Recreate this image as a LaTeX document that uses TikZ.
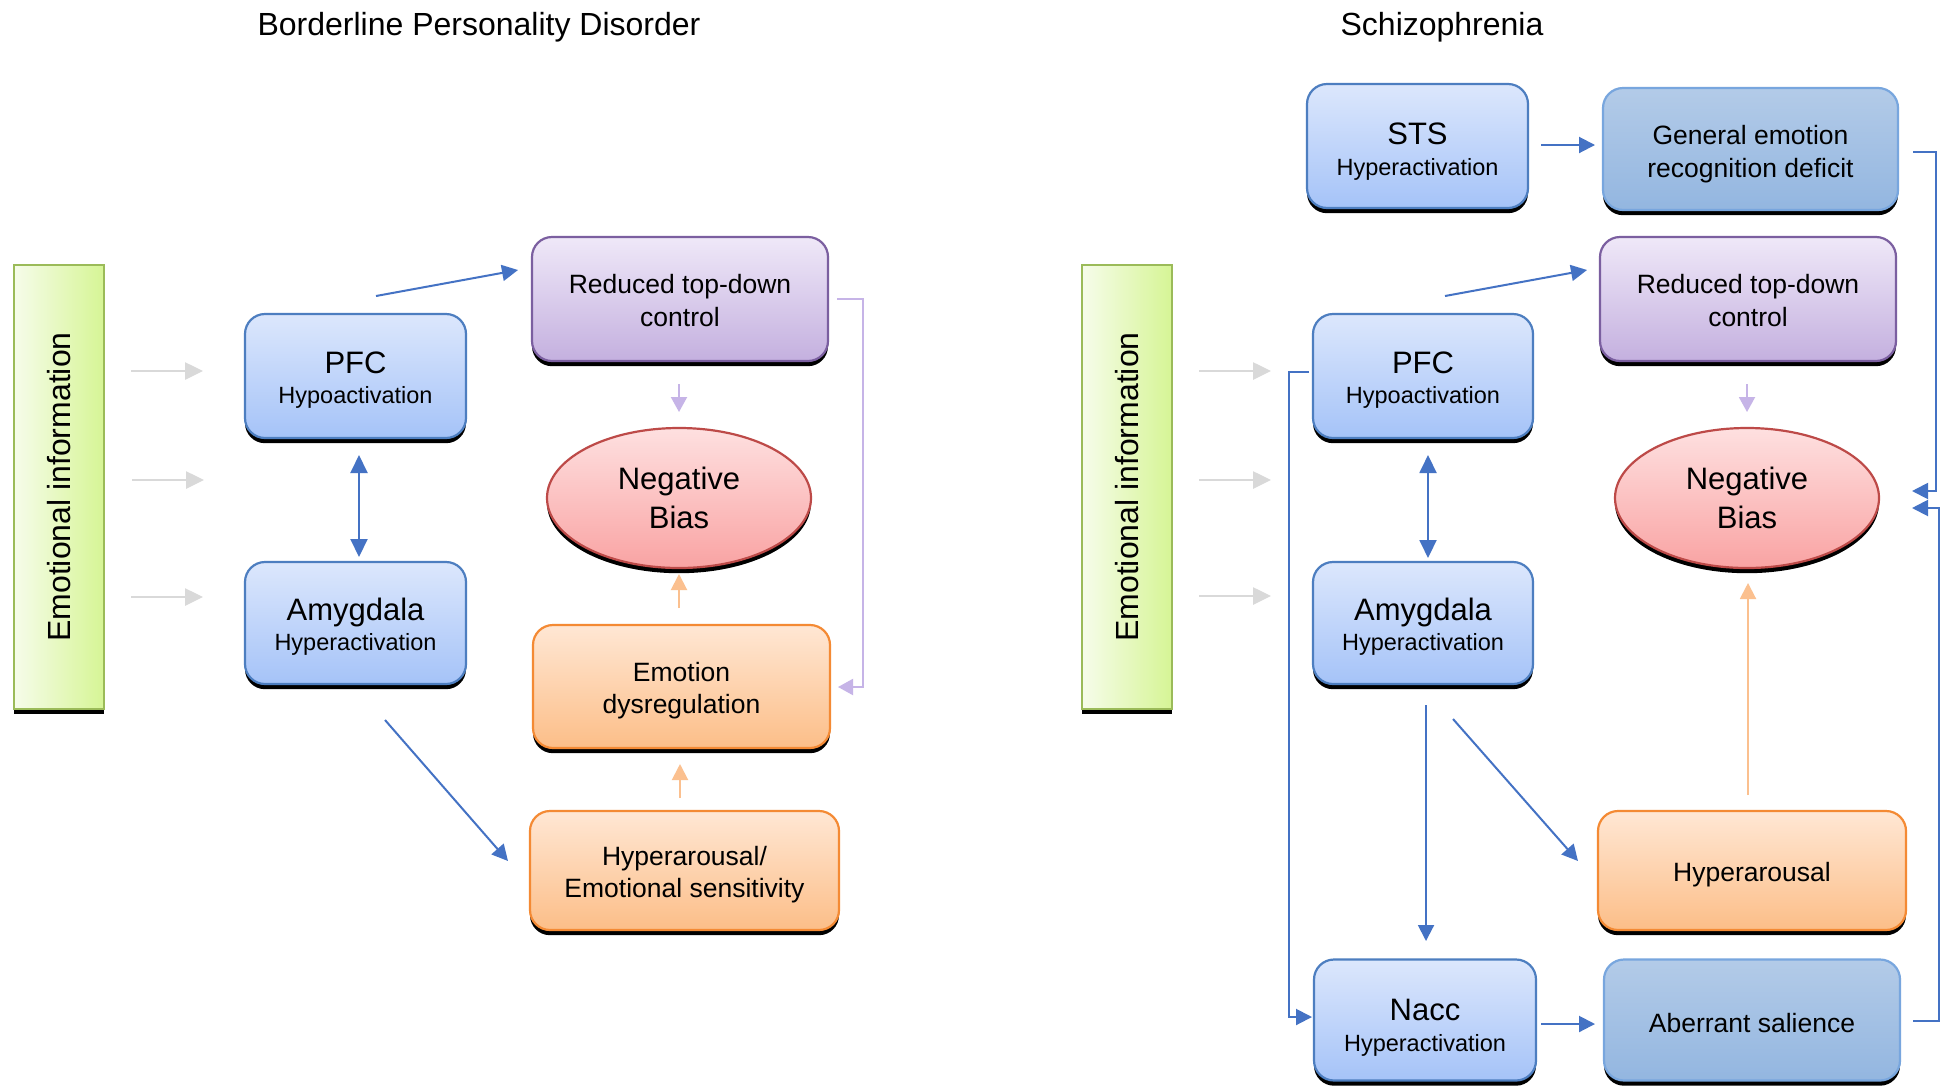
\documentclass[tikz,border=0pt]{standalone}
\usepackage{fontspec}
\setmainfont{Liberation Sans}
\usetikzlibrary{arrows.meta,shapes.geometric,shadows}
\definecolor{btop}{HTML}{DCE7FC}
\definecolor{bbot}{HTML}{A5C3F8}
\definecolor{bbord}{HTML}{4D7EC0}
\definecolor{dtop}{HTML}{B3CBE8}
\definecolor{dbot}{HTML}{93B6E0}
\definecolor{dbord}{HTML}{78A6DE}
\definecolor{ptop}{HTML}{EFE8F8}
\definecolor{pbot}{HTML}{C4B0DF}
\definecolor{pbord}{HTML}{7B5FA0}
\definecolor{rtop}{HTML}{FEE0E0}
\definecolor{rbot}{HTML}{F9A3A3}
\definecolor{rbord}{HTML}{BD4A48}
\definecolor{otop}{HTML}{FFE7D4}
\definecolor{obot}{HTML}{FCBE88}
\definecolor{obord}{HTML}{F48A34}
\definecolor{gleft}{HTML}{F6FCEA}
\definecolor{gright}{HTML}{D6F595}
\definecolor{gbord}{HTML}{9BBB59}
\definecolor{ablue}{HTML}{4472C4}
\definecolor{agray}{HTML}{D9D9D9}
\definecolor{apurple}{HTML}{C6B4E7}
\definecolor{aorange}{HTML}{FBC08F}
\newcommand\bodyfont{\fontsize{13.25}{16.25}\selectfont}
\newcommand\namefont{\fontsize{15.5}{15.5}\selectfont}
\newcommand\subfont{\fontsize{11.75}{15.25}\selectfont}
\newcommand\tp[1]{\rule{0pt}{#1}}
\begin{document}
\begin{tikzpicture}[x=0.5pt,y=-0.5pt,
  blackshadow/.style={drop shadow={shadow xshift=0pt, shadow yshift=-2.6pt, opacity=1, fill=black}},
  box/.style={rectangle, rounded corners=10pt, line width=1.1pt, inner sep=0pt, align=center, blackshadow},
  bluebox/.style={box, draw=bbord, top color=btop, bottom color=bbot, font=\subfont},
  dbluebox/.style={box, draw=dbord, top color=dtop, bottom color=dbot, font=\bodyfont},
  purplebox/.style={box, draw=pbord, top color=ptop, bottom color=pbot, font=\bodyfont},
  orangebox/.style={box, draw=obord, top color=otop, bottom color=obot, font=\bodyfont},
  negbias/.style={ellipse, draw=rbord, line width=1.1pt, top color=rtop, bottom color=rbot, inner sep=0pt, align=center, blackshadow, minimum width=132pt, minimum height=70pt, font=\fontsize{15.5}{19.5}\selectfont},
  greenbar/.style={rectangle, draw=gbord, line width=1.2pt, left color=gleft, right color=gright, minimum width=45pt, minimum height=222pt, inner sep=0pt, blackshadow},
  titletext/.style={anchor=base, font=\fontsize{16}{19}\selectfont},
  blu/.style={draw=ablue, line width=1pt, -{Triangle[length=8pt,width=8pt]}},
  bludbl/.style={draw=ablue, line width=1pt, {Triangle[length=9pt,width=8.5pt]}-{Triangle[length=9pt,width=8.5pt]}},
  gry/.style={draw=agray, line width=1.3pt, -{Triangle[length=9pt,width=8.5pt]}},
  pur/.style={draw=apurple, line width=1pt, -{Triangle[length=7.5pt,width=8pt]}},
  org/.style={draw=aorange, line width=1pt, -{Triangle[length=8pt,width=8pt]}}
]
\path[fill=white, use as bounding box] (0,0) rectangle (1948,1088);

% ---------------- Titles ----------------
\node[titletext] (titleL) at (479,35) {Borderline Personality Disorder};
\node[titletext] (titleR) at (1442,35) {Schizophrenia};

% ---------------- Left panel ----------------
\node[greenbar, label={[rotate=90, font=\fontsize{16}{19}\selectfont]center:Emotional information}] (greenL) at (59,487) {};
\node[bluebox, minimum width=110.5pt, minimum height=62pt] (pfcL) at (355.5,376) {{\namefont\tp{15.1pt}PFC}\\Hypoactivation};
\node[bluebox, minimum width=110.5pt, minimum height=61pt] (amyL) at (355.5,623) {{\namefont\tp{15.1pt}Amygdala}\\Hyperactivation};
\node[purplebox, minimum width=148pt, minimum height=62pt] (redL) at (680,299) {\tp{10.9pt}Reduced top-down\\control};
\node[negbias] (negL) at (679,498) {Negative\\Bias};
\node[orangebox, minimum width=148.5pt, minimum height=61.5pt] (emoL) at (681.5,686.5) {\tp{13.5pt}Emotion\\dysregulation};
\node[orangebox, minimum width=154.5pt, minimum height=59.5pt] (hypL) at (684.5,870.5) {\tp{13.5pt}Hyperarousal/\\Emotional sensitivity};

\coordinate (gL1a) at (131,371); \coordinate (gL1b) at (203,371);
\coordinate (gL2a) at (132,480); \coordinate (gL2b) at (204,480);
\coordinate (gL3a) at (131,597); \coordinate (gL3b) at (203,597);
\draw[gry] (gL1a) -- (gL1b);
\draw[gry] (gL2a) -- (gL2b);
\draw[gry] (gL3a) -- (gL3b);

\coordinate (dL1) at (359,455); \coordinate (dL2) at (359,557);
\draw[bludbl] (dL1) -- (dL2);

\coordinate (pfL1) at (376,296); \coordinate (pfL2) at (518,270);
\draw[blu] (pfL1) -- (pfL2);

\coordinate (amL1) at (385,720); \coordinate (amL2) at (508,861);
\draw[blu] (amL1) -- (amL2);

\coordinate (rnL1) at (679,384); \coordinate (rnL2) at (679,412);
\draw[pur] (rnL1) -- (rnL2);

\coordinate (enL1) at (679,608); \coordinate (enL2) at (679,574);
\draw[org] (enL1) -- (enL2);

\coordinate (heL1) at (680,798); \coordinate (heL2) at (680,764);
\draw[org] (heL1) -- (heL2);

\coordinate (fbL1) at (837,299); \coordinate (fbL2) at (863,299);
\coordinate (fbL3) at (863,687); \coordinate (fbL4) at (838,687);
\draw[pur] (fbL1) -- (fbL2) -- (fbL3) -- (fbL4);

% ---------------- Right panel ----------------
\node[greenbar, label={[rotate=90, font=\fontsize{16}{19}\selectfont]center:Emotional information}] (greenR) at (1127,487) {};
\node[bluebox, minimum width=110.5pt, minimum height=62pt] (sts) at (1417.5,146) {{\namefont\tp{16.3pt}STS}\\Hyperactivation};
\node[dbluebox, minimum width=147.5pt, minimum height=61pt] (gen) at (1750.5,149) {\tp{14.7pt}General emotion\\recognition deficit};
\node[purplebox, minimum width=148pt, minimum height=62pt] (redR) at (1748,299) {\tp{10.9pt}Reduced top-down\\control};
\node[bluebox, minimum width=110pt, minimum height=62pt] (pfcR) at (1423,376) {{\namefont\tp{15.1pt}PFC}\\Hypoactivation};
\node[bluebox, minimum width=110pt, minimum height=61pt] (amyR) at (1423,623) {{\namefont\tp{15.1pt}Amygdala}\\Hyperactivation};
\node[negbias] (negR) at (1747,498) {Negative\\Bias};
\node[orangebox, minimum width=154pt, minimum height=59.5pt] (hypR) at (1752,870.5) {\tp{13.5pt}Hyperarousal};
\node[bluebox, minimum width=111pt, minimum height=60.5pt] (nacc) at (1425,1020) {{\namefont\tp{18.5pt}Nacc}\\Hyperactivation};
\node[dbluebox, minimum width=148pt, minimum height=60.5pt] (aber) at (1752,1020) {\tp{12.2pt}Aberrant salience};

\coordinate (gR1a) at (1199,371); \coordinate (gR1b) at (1271,371);
\coordinate (gR2a) at (1199,480); \coordinate (gR2b) at (1271,480);
\coordinate (gR3a) at (1199,596); \coordinate (gR3b) at (1271,596);
\draw[gry] (gR1a) -- (gR1b);
\draw[gry] (gR2a) -- (gR2b);
\draw[gry] (gR3a) -- (gR3b);

\coordinate (sg1) at (1541,145); \coordinate (sg2) at (1595,145);
\draw[blu] (sg1) -- (sg2);

\coordinate (pfR1) at (1445,296); \coordinate (pfR2) at (1587,270);
\draw[blu] (pfR1) -- (pfR2);

\coordinate (dR1) at (1428,455); \coordinate (dR2) at (1428,558);
\draw[bludbl] (dR1) -- (dR2);

\coordinate (lpR1) at (1309,372); \coordinate (lpR2) at (1289,372);
\coordinate (lpR3) at (1289,1017); \coordinate (lpR4) at (1312,1017);
\draw[blu] (lpR1) -- (lpR2) -- (lpR3) -- (lpR4);

\coordinate (anR1) at (1426,705); \coordinate (anR2) at (1426,941);
\draw[blu] (anR1) -- (anR2);

\coordinate (ahR1) at (1453,719); \coordinate (ahR2) at (1578,861);
\draw[blu] (ahR1) -- (ahR2);

\coordinate (rnR1) at (1747,384); \coordinate (rnR2) at (1747,412);
\draw[pur] (rnR1) -- (rnR2);

\coordinate (hnR1) at (1748,795); \coordinate (hnR2) at (1748,583);
\draw[org] (hnR1) -- (hnR2);

\coordinate (naR1) at (1541,1024); \coordinate (naR2) at (1595,1024);
\draw[blu] (naR1) -- (naR2);

\coordinate (gnR1) at (1913,152); \coordinate (gnR2) at (1936,152);
\coordinate (gnR3) at (1936,491); \coordinate (gnR4) at (1912,491);
\draw[blu] (gnR1) -- (gnR2) -- (gnR3) -- (gnR4);

\coordinate (abR1) at (1913,1021); \coordinate (abR2) at (1939,1021);
\coordinate (abR3) at (1939,508); \coordinate (abR4) at (1912,508);
\draw[blu] (abR1) -- (abR2) -- (abR3) -- (abR4);
\end{tikzpicture}
\end{document}
